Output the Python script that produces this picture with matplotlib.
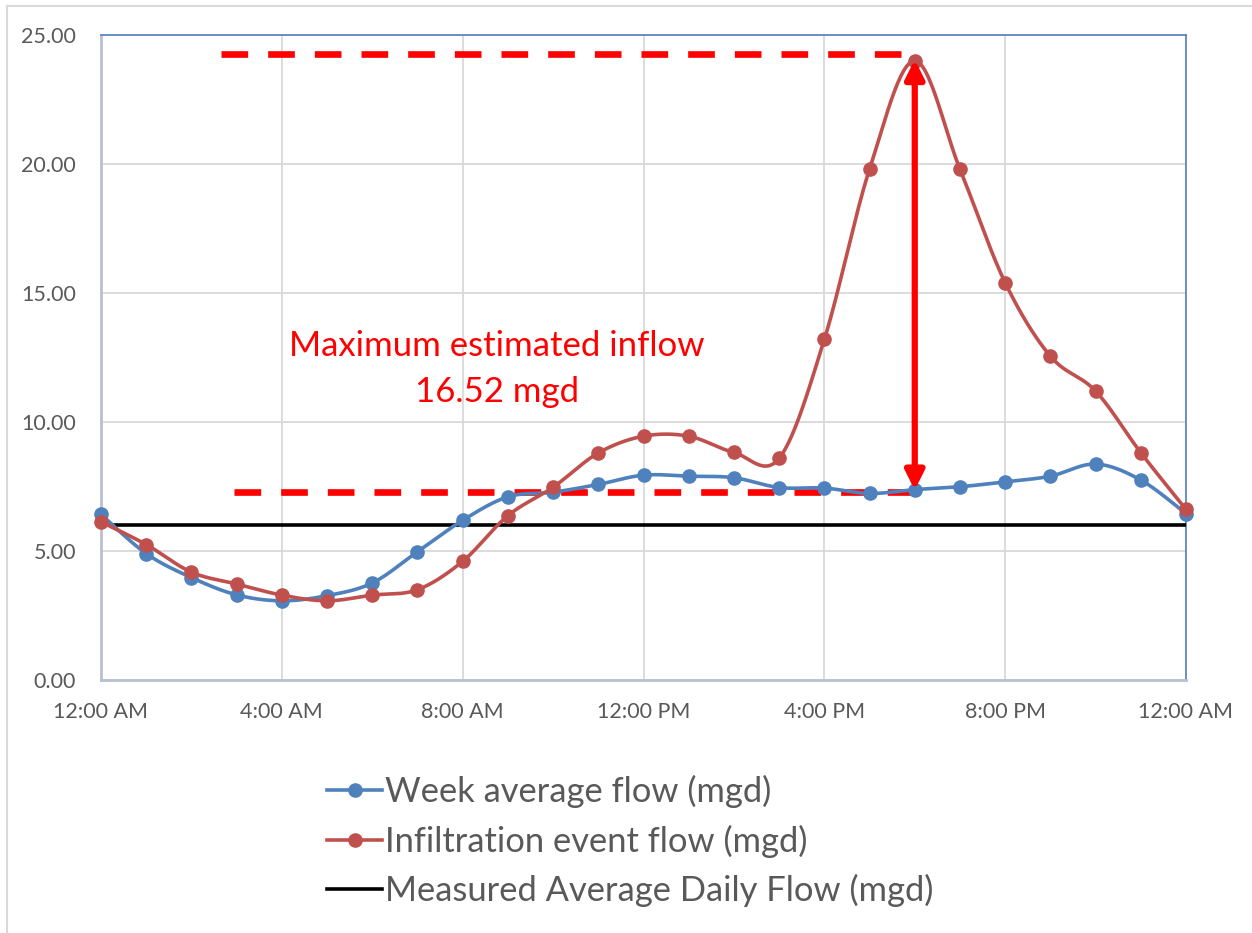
import numpy as np
import matplotlib
matplotlib.use("Agg")
import matplotlib.pyplot as plt
from matplotlib.lines import Line2D

# ---- data ----
hours = list(range(25))
week_avg = [6.42, 4.90, 3.97, 3.30, 3.07, 3.27, 3.76, 4.97, 6.19, 7.10, 7.28, 7.58,
            7.94, 7.90, 7.84, 7.46, 7.44, 7.23, 7.38, 7.49, 7.68, 7.90, 8.37, 7.75, 6.45]
infiltration = [6.13, 5.25, 4.18, 3.72, 3.29, 3.07, 3.29, 3.50, 4.60, 6.37, 7.47, 8.80,
                9.45, 9.45, 8.82, 8.59, 13.20, 19.80, 24.00, 19.80, 15.40, 12.55, 11.20, 8.81, 6.61]
daily_avg = 6.0
x_ticks = [0, 4, 8, 12, 16, 20, 24]
x_labels = ["12:00 AM", "4:00 AM", "8:00 AM", "12:00 PM", "4:00 PM", "8:00 PM", "12:00 AM"]
y_ticks = [0, 5, 10, 15, 20, 25]
top_ref = 24.25
base_ref = 7.28
top_ref_span = (2.65, 17.85)
base_ref_span = (2.95, 18.1)
arrow_x = 18
arrow_span = (7.36, 24.05)
note_text = "Maximum estimated inflow\n16.52 mgd"
note_pos = (8.75, 12.05)
legend_labels = ["Week average flow (mgd)", "Infiltration event flow (mgd)",
                 "Measured Average Daily Flow (mgd)"]

BLUE = "#4F81BD"
RED = "#C0504D"
TXT = "#595959"
plt.rcParams['font.family'] = ['Lato', 'DejaVu Sans']


def smooth(x, y, n=30):
    x = np.asarray(x, float)
    y = np.asarray(y, float)
    P = np.column_stack([x, y])
    P = np.vstack([P[0], P, P[-1]])
    out = []
    t = np.linspace(0, 1, n)[:, None]
    for i in range(1, len(P) - 2):
        p0, p1, p2, p3 = P[i - 1], P[i], P[i + 1], P[i + 2]
        c1 = p1 + (p2 - p0) / 6.0
        c2 = p2 - (p3 - p1) / 6.0
        seg = ((1 - t) ** 3) * p1 + 3 * ((1 - t) ** 2) * t * c1 + 3 * (1 - t) * t ** 2 * c2 + t ** 3 * p2
        out.append(seg if i == 1 else seg[1:])
    out = np.vstack(out)
    return out[:, 0], out[:, 1]


W, H = 1252, 933
fig = plt.figure(figsize=(W / 100, H / 100), dpi=100)
# chart-area border (left and top edges visible)
fig.add_artist(Line2D([6.5 / W, 6.5 / W], [0, 1 - 5.5 / H], transform=fig.transFigure,
                      color="#D9D9D9", lw=1.5))
fig.add_artist(Line2D([6.5 / W, 1], [1 - 5.5 / H, 1 - 5.5 / H], transform=fig.transFigure,
                      color="#D9D9D9", lw=1.5))
ax = fig.add_axes([101 / W, (H - 680) / H, (1186 - 101) / W, (680 - 35) / H])

ax.set_xlim(0, 24)
ax.set_ylim(0, 25)
ax.set_xticks(x_ticks)
ax.set_xticklabels(x_labels)
ax.set_yticks(y_ticks)
ax.set_yticklabels([f"{v:.2f}" for v in y_ticks])
ax.tick_params(length=0, labelsize=15.5, colors=TXT)
ax.tick_params(axis="y", pad=18)
ax.tick_params(axis="x", pad=16)
ax.grid(True, color="#D9D9D9", lw=1.3, zorder=0)
ax.set_axisbelow(True)
for s in ["left", "bottom"]:
    ax.spines[s].set_color("#B9C1CF")
    ax.spines[s].set_linewidth(2)
for s in ["top", "right"]:
    ax.spines[s].set_color(BLUE)
    ax.spines[s].set_linewidth(1.2)

# reference dashed lines
dash = dict(color="red", lw=4.8, linestyle=(0, (4.0, 3.0)), solid_capstyle="butt", dash_capstyle="butt", zorder=2)
ax.plot(top_ref_span, [top_ref, top_ref], **dash)
ax.plot(base_ref_span, [base_ref, base_ref], **dash)

# series
ax.axhline(daily_avg, xmin=0, xmax=1, color="black", lw=2.6, zorder=3)
sx, sy = smooth(hours, week_avg)
ax.plot(sx, sy, color=BLUE, lw=2.6, zorder=4, solid_capstyle="round")
ax.plot(hours, week_avg, "o", color=BLUE, ms=9.5, zorder=5, clip_on=False)
sx, sy = smooth(hours, infiltration)
ax.plot(sx, sy, color=RED, lw=2.6, zorder=6, solid_capstyle="round")
ax.plot(hours, infiltration, "o", color=RED, ms=9.5, zorder=7, clip_on=False)

# arrow
ax.annotate("", xy=(arrow_x, arrow_span[1]), xytext=(arrow_x, arrow_span[0]),
            arrowprops=dict(arrowstyle="<|-|>", color="red", lw=4.5, mutation_scale=28,
                            shrinkA=0, shrinkB=0), zorder=8)

ax.text(note_pos[0], note_pos[1], note_text, color="red", fontsize=25, ha="center", va="center",
        linespacing=1.52, zorder=9)

handles = [Line2D([], [], color=BLUE, lw=2.6, marker="o", ms=9.5),
           Line2D([], [], color=RED, lw=2.6, marker="o", ms=9.5),
           Line2D([], [], color="black", lw=2.6)]
leg = fig.legend(handles, legend_labels, loc="upper left", bbox_to_anchor=(327 / W, 1 - 775 / H),
                 frameon=False, fontsize=24.8, handlelength=1.6, handletextpad=0.08,
                 labelspacing=0.48, labelcolor=TXT, borderaxespad=0, borderpad=0)

fig.savefig("out.png", dpi=100)
